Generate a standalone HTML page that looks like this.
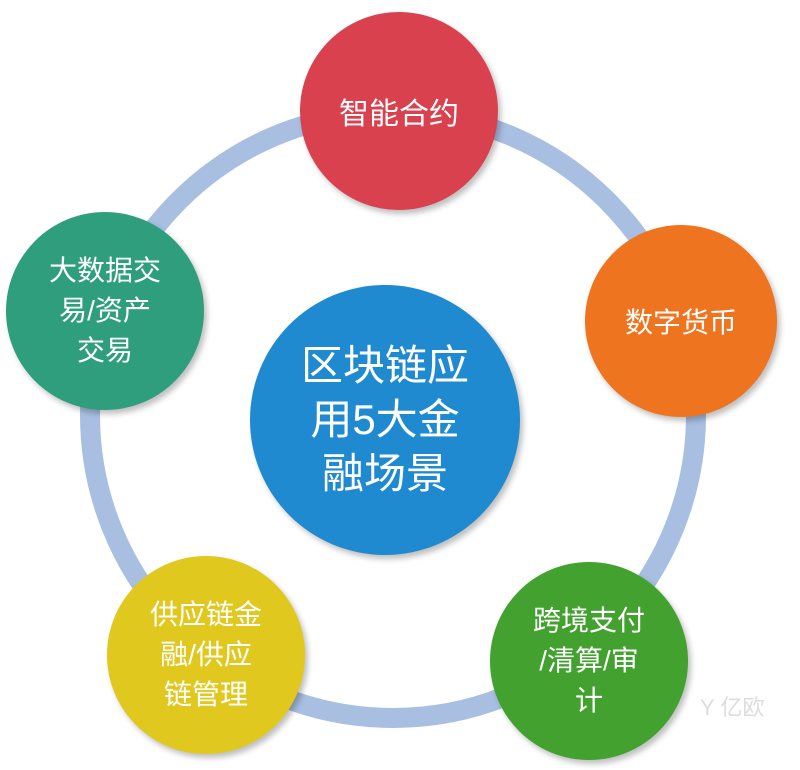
<!DOCTYPE html>
<html><head><meta charset="utf-8"><style>
body{margin:0;width:800px;height:770px;background:#fff;overflow:hidden;position:relative;font-family:"Liberation Sans","Noto Sans CJK SC",sans-serif}
.c{position:absolute;border-radius:50%;display:flex;align-items:center;justify-content:center;text-align:center;color:#fff;box-shadow:3px 4px 6px rgba(0,0,0,.25)}
</style></head><body>
<svg width="800" height="770" style="position:absolute;left:0;top:0">
<circle cx="393" cy="415" r="303" fill="none" stroke="#a8bfe2" stroke-width="20"/>
</svg>
<div class="c" style="left:300px;top:12px;width:198px;height:198px;background:#d9414e;font-size:30px">智能合约</div>
<div class="c" style="left:585px;top:225px;width:192px;height:192px;background:#ee7420;font-size:28px">数字货币</div>
<div class="c" style="left:490px;top:562px;width:198px;height:198px;background:#43a12f;font-size:28px;line-height:40px">跨境支付<br>/清算/审<br>计</div>
<div class="c" style="left:107px;top:556px;width:198px;height:198px;background:#e0c81f;font-size:28px;line-height:40px">供应链金<br>融/供应<br>链管理</div>
<div class="c" style="left:6px;top:212px;width:198px;height:198px;background:#2f9e7d;font-size:28px;line-height:40px">大数据交<br>易/资产<br>交易</div>
<div class="c" style="left:250px;top:285px;width:270px;height:270px;background:#1f8ad0;font-size:42px;line-height:54px">区块链应<br>用5大金<br>融场景</div>
<div style="position:absolute;left:700px;top:690px;color:#ddd;font-size:22px">Y 亿欧</div>
</body></html>
